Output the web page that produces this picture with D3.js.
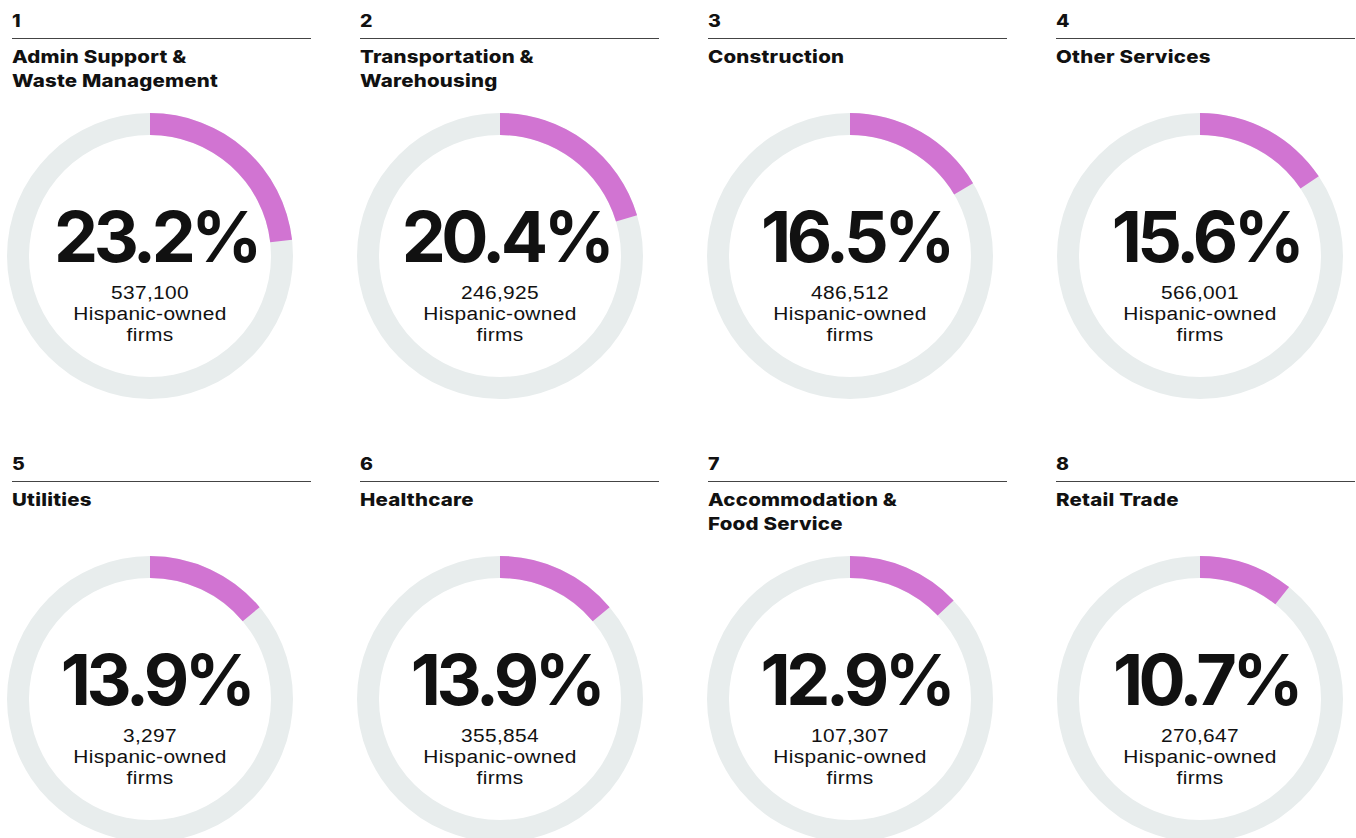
<!DOCTYPE html>
<meta charset="utf-8">
<script src="https://d3js.org/d3.v7.min.js"></script>
<style>
  body { margin: 0; background: #fff; }
  text { fill: #111; }
</style>
<div id="my_dataviz"></div>
<script>

// data
var ranks = ["1", "2", "3", "4", "5", "6", "7", "8"];
var industries = [
  ["Admin Support &", "Waste Management"],
  ["Transportation &", "Warehousing"],
  ["Construction"],
  ["Other Services"],
  ["Utilities"],
  ["Healthcare"],
  ["Accommodation &", "Food Service"],
  ["Retail Trade"]
];
var shares = [23.2, 20.4, 16.5, 15.6, 13.9, 13.9, 12.9, 10.7];
var firms = ["537,100", "246,925", "486,512", "566,001", "3,297", "355,854", "107,307", "270,647"];

var width = 1356, height = 838;
var cols = 4;

var svg = d3.select("#my_dataviz")
  .append("svg")
    .attr("width", width)
    .attr("height", height);

// layout scales
var colX = d3.scaleLinear().domain([0, 1]).range([150, 500]);   // donut centre per column
var lineX = d3.scaleLinear().domain([0, 1]).range([12, 360]);   // rule start per column
var rowY = d3.scaleLinear().domain([0, 1]).range([0, 443]);

var angle = d3.scaleLinear().domain([0, 100]).range([0, 2 * Math.PI]);

var outerR = 143, innerR = 121;
var arc = d3.arc().innerRadius(innerR).outerRadius(outerR);

var cells = svg.selectAll("g.cell")
  .data(shares)
  .enter().append("g")
    .attr("class", "cell")
    .attr("transform", function(d, i) { return "translate(0," + rowY(Math.floor(i / cols)) + ")"; });

// rank number
cells.append("text")
  .attr("transform", function(d, i) { return "translate(" + lineX(i % cols) + ",27) scale(1.15,1)"; })
  .style("font-family", "Inter")
  .style("font-weight", 800)
  .style("font-size", "17px")
  .text(function(d, i) { return ranks[i]; });

// rule
cells.append("line")
  .attr("x1", function(d, i) { return lineX(i % cols); })
  .attr("x2", function(d, i) { return lineX(i % cols) + 299; })
  .attr("y1", 38.5).attr("y2", 38.5)
  .attr("stroke", "#444")
  .attr("stroke-width", 1.2);

// title (wide heavy face, stretched a little)
cells.append("text")
  .attr("transform", function(d, i) { return "translate(" + lineX(i % cols) + ",63) scale(1.17,1)"; })
  .style("font-family", "Inter")
  .style("font-weight", 800)
  .style("font-size", "17.5px")
  .style("letter-spacing", "0.2px")
  .selectAll("tspan")
  .data(function(d, i) { return industries[i]; })
  .enter().append("tspan")
    .attr("x", 0)
    .attr("dy", function(d, j) { return j === 0 ? 0 : 24; })
    .text(function(d) { return d; });

// donut
var donut = cells.append("g")
  .attr("transform", function(d, i) { return "translate(" + colX(i % cols) + ",256)"; });

donut.append("path")
  .attr("d", arc({startAngle: 0, endAngle: 2 * Math.PI}))
  .attr("fill", "#e8eded");

donut.append("path")
  .attr("d", function(d) { return arc({startAngle: 0, endAngle: angle(d)}); })
  .attr("fill", "#d174d2");

donut.append("text")
  .attr("text-anchor", "middle")
  .attr("x", 6)
  .attr("y", 6)
  .style("font-family", "Inter")
  .style("font-weight", 650)
  .style("font-size", "70px")
  .style("letter-spacing", "-4.5px")
  .text(function(d) { return d.toFixed(1) + "%"; });

var sub = donut.append("text")
  .attr("text-anchor", "middle")
  .attr("transform", "scale(1.1,1)")
  .style("font-family", "Liberation Sans")
  .style("font-size", "19px")
  .style("letter-spacing", "0.3px");

sub.append("tspan").attr("x", 0).attr("y", 43)
  .text(function(d, i) { return firms[i]; });
sub.append("tspan").attr("x", 0).attr("y", 64).text("Hispanic-owned");
sub.append("tspan").attr("x", 0).attr("y", 85).text("firms");

</script>
